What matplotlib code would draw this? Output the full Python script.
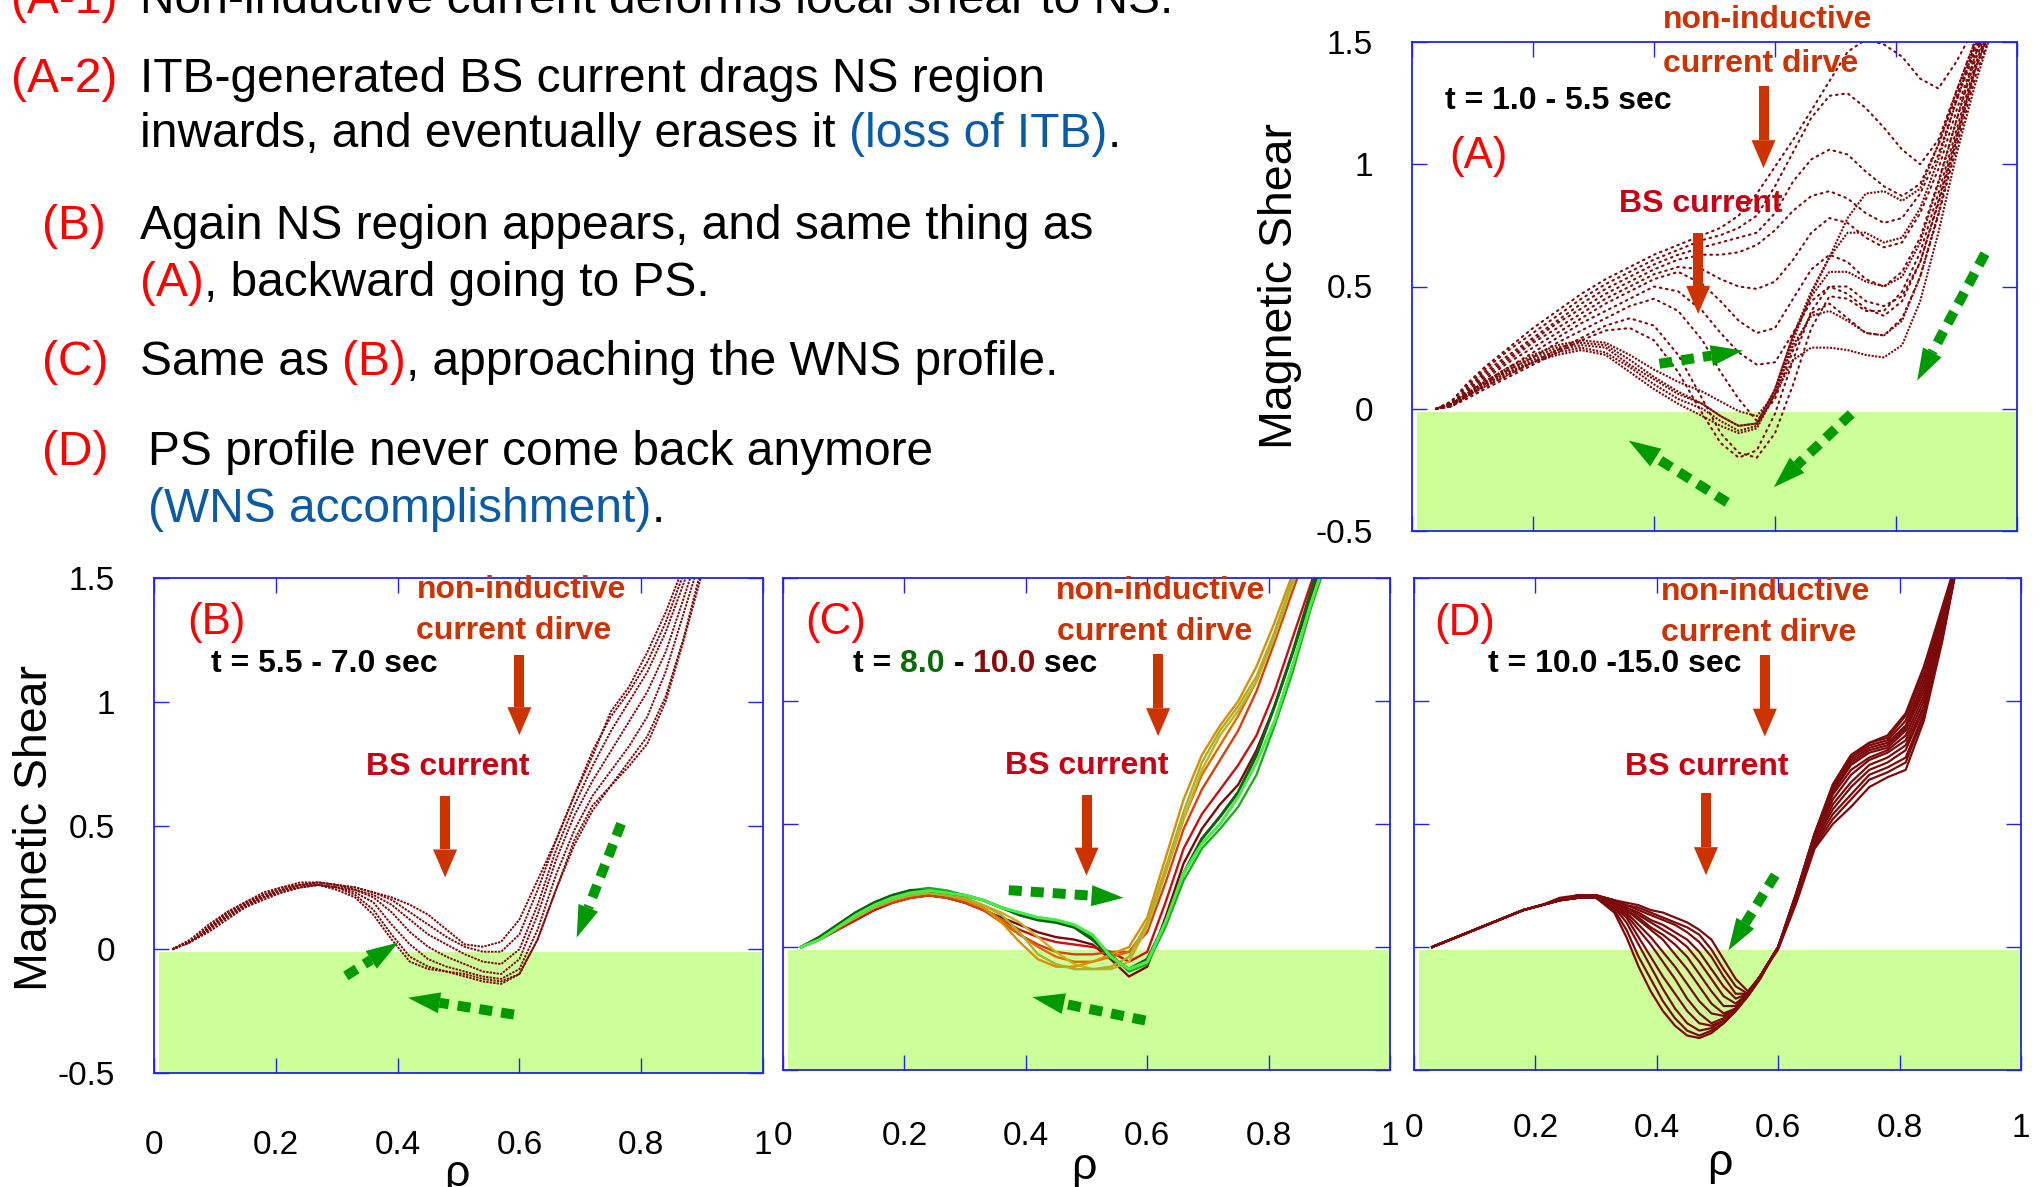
import numpy as np
import matplotlib
matplotlib.use("Agg")
import matplotlib.pyplot as plt
from matplotlib.patches import Polygon

# ---- magnetic shear profiles s(rho), one list per time slice ----
# (A) t = 1.0 - 5.5 s
rho_a = [0.04, 0.065, 0.09, 0.12, 0.16, 0.20, 0.24, 0.28, 0.32, 0.36, 0.40, 0.44, 0.48, 0.51,
         0.54, 0.57, 0.60, 0.63, 0.66, 0.69, 0.72, 0.75, 0.78, 0.81, 0.84, 0.87, 0.90, 0.93, 0.96]
shear_a_early = [
    [0.0, 0.03, 0.10, 0.17, 0.25, 0.33, 0.40, 0.47, 0.53, 0.58, 0.63, 0.67, 0.71, 0.74, 0.79, 0.88, 0.99, 1.10, 1.22, 1.34, 1.46, 1.51, 1.49, 1.44, 1.35, 1.31, 1.42, 1.56, 1.70],
    [0.0, 0.03, 0.09, 0.16, 0.24, 0.31, 0.38, 0.45, 0.51, 0.56, 0.61, 0.65, 0.69, 0.71, 0.74, 0.79, 0.91, 1.05, 1.19, 1.28, 1.29, 1.23, 1.15, 1.06, 1.00, 1.10, 1.30, 1.50, 1.66],
    [0.0, 0.02, 0.08, 0.15, 0.22, 0.29, 0.36, 0.43, 0.49, 0.54, 0.59, 0.63, 0.66, 0.68, 0.70, 0.72, 0.80, 0.93, 1.02, 1.06, 1.04, 0.97, 0.91, 0.87, 0.92, 1.08, 1.28, 1.48, 1.64],
    [0.0, 0.02, 0.07, 0.14, 0.21, 0.28, 0.35, 0.41, 0.47, 0.52, 0.57, 0.61, 0.63, 0.63, 0.64, 0.67, 0.73, 0.81, 0.87, 0.89, 0.86, 0.80, 0.76, 0.78, 0.88, 1.04, 1.26, 1.46, 1.63],
    [0.0, 0.02, 0.07, 0.13, 0.20, 0.27, 0.33, 0.39, 0.45, 0.50, 0.55, 0.58, 0.57, 0.53, 0.50, 0.49, 0.52, 0.61, 0.72, 0.78, 0.76, 0.70, 0.66, 0.68, 0.80, 0.98, 1.22, 1.44, 1.62],
    [0.0, 0.02, 0.06, 0.12, 0.19, 0.25, 0.31, 0.37, 0.43, 0.48, 0.53, 0.56, 0.51, 0.44, 0.36, 0.31, 0.33, 0.45, 0.57, 0.63, 0.60, 0.53, 0.50, 0.56, 0.70, 0.93, 1.18, 1.42, 1.60],
    [0.0, 0.02, 0.06, 0.11, 0.17, 0.23, 0.29, 0.35, 0.40, 0.45, 0.50, 0.48, 0.40, 0.31, 0.23, 0.18, 0.19, 0.31, 0.44, 0.50, 0.47, 0.41, 0.38, 0.44, 0.60, 0.85, 1.12, 1.38, 1.58],
    [0.0, 0.01, 0.05, 0.10, 0.16, 0.21, 0.27, 0.32, 0.37, 0.42, 0.45, 0.40, 0.28, 0.15, 0.04, -0.05, 0.04, 0.24, 0.39, 0.43, 0.37, 0.31, 0.30, 0.37, 0.54, 0.79, 1.07, 1.35, 1.56],
    [0.0, 0.01, 0.05, 0.09, 0.14, 0.19, 0.24, 0.29, 0.34, 0.37, 0.34, 0.22, 0.04, -0.10, -0.18, -0.20, -0.10, 0.10, 0.33, 0.46, 0.45, 0.40, 0.40, 0.48, 0.64, 0.88, 1.14, 1.40, 1.60],
    [0.0, 0.01, 0.04, 0.08, 0.13, 0.18, 0.23, 0.28, 0.32, 0.33, 0.28, 0.15, -0.02, -0.14, -0.20, -0.17, -0.02, 0.20, 0.40, 0.50, 0.50, 0.44, 0.42, 0.46, 0.60, 0.84, 1.10, 1.38, 1.58],
]
shear_a_late = [
    [0.0, 0.02, 0.06, 0.11, 0.17, 0.22, 0.26, 0.28, 0.27, 0.22, 0.16, 0.11, 0.07, 0.03, -0.01, -0.03, 0.06, 0.28, 0.47, 0.62, 0.78, 0.88, 0.89, 0.85, 0.90, 1.08, 1.30, 1.50, 1.66],
    [0.0, 0.02, 0.06, 0.11, 0.16, 0.21, 0.25, 0.27, 0.26, 0.20, 0.13, 0.07, 0.02, -0.03, -0.07, -0.06, 0.08, 0.30, 0.48, 0.62, 0.72, 0.72, 0.68, 0.70, 0.82, 1.02, 1.26, 1.48, 1.64],
    [0.0, 0.02, 0.05, 0.10, 0.15, 0.20, 0.24, 0.26, 0.25, 0.18, 0.12, 0.06, 0.02, -0.03, -0.07, -0.06, 0.08, 0.30, 0.46, 0.56, 0.56, 0.52, 0.50, 0.54, 0.68, 0.92, 1.18, 1.44, 1.62],
    [0.0, 0.02, 0.05, 0.10, 0.15, 0.19, 0.23, 0.25, 0.23, 0.17, 0.10, 0.04, 0.00, -0.05, -0.09, -0.07, 0.06, 0.26, 0.38, 0.40, 0.36, 0.31, 0.30, 0.36, 0.54, 0.80, 1.10, 1.38, 1.60],
    [0.0, 0.01, 0.05, 0.09, 0.14, 0.19, 0.22, 0.24, 0.22, 0.15, 0.08, 0.02, -0.03, -0.07, -0.10, -0.08, 0.06, 0.20, 0.25, 0.25, 0.24, 0.22, 0.21, 0.26, 0.44, 0.72, 1.04, 1.32, 1.56],
]

# (B) t = 5.5 - 7.0 s
rho_b = [0.03, 0.06, 0.09, 0.12, 0.15, 0.18, 0.21, 0.24, 0.27, 0.30, 0.33, 0.36, 0.39, 0.42, 0.45,
         0.48, 0.51, 0.54, 0.57, 0.60, 0.63, 0.66, 0.69, 0.72, 0.75, 0.78, 0.81, 0.84, 0.87, 0.90]
shear_b = [
    [0.0, 0.04, 0.10, 0.15, 0.19, 0.23, 0.25, 0.27, 0.27, 0.26, 0.25, 0.23, 0.21, 0.18, 0.14, 0.08, 0.02, 0.01, 0.03, 0.12, 0.28, 0.44, 0.62, 0.78, 0.96, 1.06, 1.20, 1.36, 1.55, 1.75],
    [0.0, 0.03, 0.09, 0.15, 0.19, 0.22, 0.25, 0.26, 0.27, 0.26, 0.25, 0.23, 0.20, 0.15, 0.10, 0.05, 0.01, -0.01, -0.01, 0.06, 0.24, 0.44, 0.62, 0.80, 0.94, 1.04, 1.16, 1.32, 1.52, 1.72],
    [0.0, 0.03, 0.09, 0.14, 0.18, 0.22, 0.24, 0.26, 0.27, 0.26, 0.24, 0.22, 0.18, 0.12, 0.06, 0.02, -0.02, -0.05, -0.06, 0.00, 0.18, 0.40, 0.58, 0.74, 0.88, 1.00, 1.12, 1.28, 1.48, 1.70],
    [0.0, 0.03, 0.08, 0.14, 0.18, 0.21, 0.24, 0.26, 0.26, 0.25, 0.24, 0.21, 0.15, 0.07, 0.01, -0.03, -0.06, -0.09, -0.10, -0.04, 0.14, 0.36, 0.54, 0.68, 0.80, 0.92, 1.04, 1.20, 1.42, 1.65],
    [0.0, 0.03, 0.08, 0.13, 0.18, 0.21, 0.24, 0.25, 0.26, 0.25, 0.23, 0.19, 0.10, 0.02, -0.04, -0.07, -0.09, -0.11, -0.12, -0.08, 0.08, 0.30, 0.48, 0.62, 0.72, 0.82, 0.94, 1.12, 1.36, 1.60],
    [0.0, 0.03, 0.08, 0.13, 0.17, 0.21, 0.23, 0.25, 0.26, 0.25, 0.22, 0.16, 0.06, -0.03, -0.07, -0.09, -0.11, -0.13, -0.14, -0.10, 0.04, 0.24, 0.42, 0.56, 0.66, 0.76, 0.86, 1.02, 1.26, 1.55],
    [0.0, 0.03, 0.07, 0.12, 0.17, 0.20, 0.23, 0.25, 0.26, 0.24, 0.21, 0.14, 0.04, -0.05, -0.08, -0.09, -0.10, -0.12, -0.13, -0.10, 0.04, 0.24, 0.44, 0.58, 0.66, 0.74, 0.83, 1.00, 1.25, 1.52],
]

# (C) t = 8.0 - 10.0 s
rho_c = [0.03, 0.06, 0.09, 0.12, 0.15, 0.18, 0.21, 0.24, 0.27, 0.30, 0.33, 0.36, 0.39, 0.42, 0.45,
         0.48, 0.51, 0.54, 0.57, 0.60, 0.63, 0.66, 0.69, 0.72, 0.75, 0.78, 0.81, 0.84, 0.87, 0.90]
shear_c = [
    [0.0, 0.03, 0.07, 0.11, 0.15, 0.18, 0.20, 0.21, 0.20, 0.18, 0.15, 0.12, 0.09, 0.06, 0.04, 0.03, 0.01, -0.05, -0.12, -0.08, 0.12, 0.34, 0.48, 0.58, 0.66, 0.80, 0.98, 1.20, 1.42, 1.65],
    [0.0, 0.03, 0.07, 0.11, 0.15, 0.18, 0.20, 0.21, 0.20, 0.18, 0.15, 0.11, 0.07, 0.04, 0.02, 0.01, 0.00, -0.02, -0.06, -0.02, 0.18, 0.40, 0.54, 0.64, 0.74, 0.86, 1.04, 1.26, 1.48, 1.70],
    [0.0, 0.03, 0.07, 0.12, 0.16, 0.18, 0.20, 0.21, 0.20, 0.18, 0.15, 0.10, 0.05, 0.01, -0.02, -0.03, -0.03, -0.02, -0.02, 0.06, 0.26, 0.48, 0.64, 0.76, 0.88, 1.04, 1.24, 1.45, 1.65, 1.82],
    [0.0, 0.03, 0.08, 0.12, 0.16, 0.19, 0.21, 0.22, 0.21, 0.19, 0.16, 0.11, 0.05, 0.00, -0.04, -0.06, -0.06, -0.04, -0.02, 0.08, 0.30, 0.52, 0.70, 0.82, 0.94, 1.08, 1.28, 1.48, 1.68, 1.85],
    [0.0, 0.03, 0.08, 0.12, 0.16, 0.19, 0.21, 0.22, 0.21, 0.19, 0.16, 0.10, 0.02, -0.05, -0.08, -0.08, -0.06, -0.03, 0.00, 0.12, 0.36, 0.60, 0.78, 0.90, 1.00, 1.14, 1.32, 1.52, 1.72, 1.88],
    [0.0, 0.03, 0.08, 0.12, 0.16, 0.19, 0.21, 0.22, 0.21, 0.20, 0.17, 0.14, 0.10, 0.04, -0.02, -0.07, -0.09, -0.09, -0.06, 0.08, 0.30, 0.52, 0.72, 0.86, 0.96, 1.08, 1.26, 1.48, 1.68, 1.85],
    [0.0, 0.03, 0.08, 0.12, 0.16, 0.19, 0.21, 0.22, 0.21, 0.20, 0.17, 0.13, 0.06, -0.03, -0.07, -0.09, -0.09, -0.08, -0.04, 0.10, 0.32, 0.55, 0.75, 0.88, 0.98, 1.10, 1.28, 1.50, 1.70, 1.85],
    [0.0, 0.04, 0.09, 0.14, 0.18, 0.21, 0.23, 0.24, 0.23, 0.21, 0.19, 0.16, 0.14, 0.12, 0.11, 0.09, 0.04, -0.03, -0.10, -0.07, 0.08, 0.27, 0.40, 0.48, 0.57, 0.70, 0.90, 1.12, 1.38, 1.60],
    [0.0, 0.04, 0.09, 0.14, 0.18, 0.21, 0.23, 0.23, 0.22, 0.21, 0.19, 0.16, 0.13, 0.11, 0.10, 0.08, 0.03, -0.04, -0.09, -0.05, 0.10, 0.30, 0.44, 0.53, 0.63, 0.78, 0.98, 1.20, 1.45, 1.68],
    [0.0, 0.03, 0.08, 0.13, 0.17, 0.20, 0.22, 0.23, 0.22, 0.21, 0.19, 0.16, 0.14, 0.12, 0.11, 0.09, 0.05, -0.04, -0.09, -0.06, 0.10, 0.30, 0.42, 0.50, 0.61, 0.75, 0.92, 1.15, 1.40, 1.62],
]
colors_c = ["#7a0a0a", "#c81010", "#d84010", "#e06a00", "#d89000", "#c8b020",
            "#a8b030", "#22aa22", "#0f5f14", "#44ee44"]

# (D) t = 10.0 - 15.0 s
rho_d = [0.03, 0.06, 0.09, 0.12, 0.15, 0.18, 0.21, 0.24, 0.27, 0.30, 0.33, 0.35, 0.37, 0.39, 0.41, 0.43, 0.45,
         0.47, 0.49, 0.51, 0.53, 0.55, 0.57, 0.60, 0.63, 0.66, 0.69, 0.72, 0.75, 0.78, 0.81, 0.84, 0.87, 0.90]
shear_d = [
    [0.0, 0.03, 0.06, 0.09, 0.12, 0.15, 0.17, 0.19, 0.21, 0.21, 0.19, 0.18, 0.17, 0.15, 0.14, 0.12, 0.10, 0.07, 0.03, -0.05, -0.13, -0.18, -0.12, -0.01, 0.18, 0.40, 0.50, 0.57, 0.65, 0.69, 0.72, 0.92, 1.24, 1.62],
    [0.0, 0.03, 0.06, 0.09, 0.12, 0.15, 0.17, 0.19, 0.21, 0.21, 0.19, 0.17, 0.16, 0.14, 0.12, 0.10, 0.08, 0.05, -0.01, -0.09, -0.16, -0.19, -0.12, 0.00, 0.19, 0.41, 0.52, 0.60, 0.68, 0.71, 0.75, 0.94, 1.25, 1.62],
    [0.0, 0.03, 0.06, 0.09, 0.12, 0.15, 0.17, 0.20, 0.21, 0.21, 0.19, 0.17, 0.15, 0.13, 0.11, 0.09, 0.06, 0.02, -0.04, -0.12, -0.19, -0.19, -0.12, 0.00, 0.19, 0.42, 0.54, 0.62, 0.70, 0.73, 0.77, 0.95, 1.26, 1.62],
    [0.0, 0.03, 0.06, 0.09, 0.12, 0.15, 0.17, 0.19, 0.21, 0.21, 0.18, 0.16, 0.14, 0.11, 0.09, 0.06, 0.03, -0.02, -0.09, -0.16, -0.21, -0.19, -0.12, 0.00, 0.20, 0.43, 0.56, 0.65, 0.72, 0.75, 0.80, 0.97, 1.27, 1.62],
    [0.0, 0.03, 0.06, 0.09, 0.12, 0.15, 0.17, 0.19, 0.21, 0.21, 0.18, 0.16, 0.13, 0.10, 0.07, 0.04, 0.00, -0.06, -0.13, -0.20, -0.23, -0.19, -0.12, 0.00, 0.20, 0.43, 0.58, 0.67, 0.74, 0.77, 0.82, 0.98, 1.28, 1.62],
    [0.0, 0.03, 0.06, 0.09, 0.12, 0.15, 0.17, 0.19, 0.20, 0.21, 0.18, 0.15, 0.12, 0.08, 0.05, 0.01, -0.04, -0.11, -0.18, -0.24, -0.24, -0.19, -0.12, 0.00, 0.21, 0.44, 0.60, 0.70, 0.76, 0.79, 0.84, 1.00, 1.29, 1.62],
    [0.0, 0.03, 0.06, 0.09, 0.12, 0.15, 0.17, 0.19, 0.20, 0.21, 0.18, 0.15, 0.11, 0.07, 0.03, -0.03, -0.09, -0.16, -0.23, -0.27, -0.25, -0.19, -0.12, 0.00, 0.21, 0.44, 0.62, 0.72, 0.77, 0.80, 0.86, 1.02, 1.30, 1.62],
    [0.0, 0.03, 0.06, 0.09, 0.12, 0.15, 0.17, 0.19, 0.20, 0.21, 0.17, 0.14, 0.09, 0.04, -0.02, -0.08, -0.15, -0.22, -0.27, -0.28, -0.25, -0.19, -0.12, 0.00, 0.21, 0.45, 0.63, 0.74, 0.79, 0.81, 0.88, 1.04, 1.31, 1.62],
    [0.0, 0.03, 0.06, 0.09, 0.12, 0.15, 0.17, 0.19, 0.20, 0.21, 0.17, 0.13, 0.07, 0.01, -0.06, -0.13, -0.21, -0.27, -0.31, -0.29, -0.25, -0.19, -0.12, 0.00, 0.21, 0.45, 0.64, 0.75, 0.80, 0.82, 0.89, 1.06, 1.32, 1.62],
    [0.0, 0.03, 0.06, 0.09, 0.12, 0.15, 0.17, 0.19, 0.20, 0.20, 0.16, 0.12, 0.04, -0.04, -0.12, -0.19, -0.26, -0.31, -0.32, -0.30, -0.25, -0.19, -0.12, 0.00, 0.22, 0.46, 0.65, 0.76, 0.81, 0.83, 0.90, 1.08, 1.34, 1.62],
    [0.0, 0.03, 0.06, 0.09, 0.12, 0.15, 0.17, 0.19, 0.20, 0.20, 0.16, 0.10, 0.01, -0.08, -0.17, -0.25, -0.31, -0.34, -0.33, -0.30, -0.25, -0.19, -0.12, 0.00, 0.22, 0.46, 0.65, 0.77, 0.82, 0.84, 0.92, 1.10, 1.35, 1.62],
    [0.0, 0.03, 0.06, 0.09, 0.12, 0.15, 0.17, 0.19, 0.20, 0.20, 0.15, 0.07, -0.04, -0.13, -0.22, -0.29, -0.34, -0.36, -0.34, -0.31, -0.26, -0.20, -0.13, 0.00, 0.22, 0.46, 0.66, 0.78, 0.83, 0.85, 0.94, 1.12, 1.37, 1.62],
    [0.0, 0.03, 0.06, 0.09, 0.12, 0.15, 0.17, 0.19, 0.20, 0.20, 0.14, 0.04, -0.08, -0.18, -0.26, -0.32, -0.36, -0.37, -0.35, -0.31, -0.26, -0.20, -0.13, 0.00, 0.22, 0.46, 0.66, 0.78, 0.83, 0.86, 0.95, 1.14, 1.38, 1.62],
]

x_ticks = [0, 0.2, 0.4, 0.6, 0.8, 1]
x_ticklabels = ["0", "0.2", "0.4", "0.6", "0.8", "1"]
y_ticks = [-0.5, 0, 0.5, 1, 1.5]
y_ticklabels = ["-0.5", "0", "0.5", "1", "1.5"]

# colours
CURVE = "#7d0a0a"
AXIS_BLUE = "#2222ee"
NS_FILL = "#ccff99"
RED = "#ff0000"
NOTE_BLUE = "#0a5aa6"
DRIVE = "#cc3300"
BS = "#c80014"
GREEN = "#009900"

plt.rcParams["font.family"] = ["Liberation Sans", "DejaVu Sans"]

W, H = 2044, 1187
fig = plt.figure(figsize=(W / 100, H / 100), dpi=100)
renderer = fig.canvas.get_renderer()


def text_width(s, **kw):
    # width of s in pixels, keeping leading/trailing blanks
    t = fig.text(0, 0, "|" + s + "|", **kw)
    w = t.get_window_extent(renderer).width
    t.set_text("||")
    w -= t.get_window_extent(renderer).width
    t.remove()
    return w


def run(x, y, parts, va="baseline", **kw):
    # x, y in display pixels (origin bottom-left); parts = [(text, colour), ...]
    for s, color in parts:
        fig.text(x / W, y / H, s, color=color, va=va, **kw)
        x += text_width(s, **kw)


def box(left, top, right, bottom):
    return [left / W, 1 - bottom / H, (right - left) / W, (bottom - top) / H]


def setup(ax, ylab, xlab, xpad):
    ax.set_xlim(0, 1)
    ax.set_ylim(-0.5, 1.5)
    ax.set_xticks(x_ticks)
    ax.set_yticks(y_ticks)
    ax.set_xticklabels(x_ticklabels if xlab else [])
    ax.set_yticklabels(y_ticklabels if ylab else [])
    ax.tick_params(direction="in", length=11, width=1.0, color=AXIS_BLUE,
                   top=True, right=True, labelsize=24)
    ax.tick_params(axis="x", pad=xpad)
    ax.tick_params(axis="y", pad=28)
    for sp in ax.spines.values():
        sp.set_color(AXIS_BLUE)
        sp.set_linewidth(1.3)
    ax.axhspan(-0.5, -0.012, xmin=0.008, xmax=1.0, color=NS_FILL, lw=0, zorder=0)


def arrow(ax, start, tip, color, shaft, head_w, head_len, dashes=None):
    # block arrow, sizes in pixels
    to_px = ax.transData.transform
    to_data = ax.transData.inverted().transform
    p0, p1 = to_px(start), to_px(tip)
    u = (p1 - p0) / np.hypot(*(p1 - p0))
    n = np.array([-u[1], u[0]])
    base = p1 - u * head_len
    b = to_data(base)
    line, = ax.plot([start[0], b[0]], [start[1], b[1]], color=color, lw=shaft * 0.72,
                    solid_capstyle="butt", clip_on=False, zorder=5)
    if dashes:
        line.set_dashes(dashes)
        line.set_dash_capstyle("butt")
    head = to_data(np.array([p1, base + n * head_w / 2, base - n * head_w / 2]))
    ax.add_patch(Polygon(head, closed=True, color=color, lw=0, clip_on=False, zorder=5))


def notes(ax, ni_xy, cd_xy, ni_arrow, bs_xy, bs_arrow, greens):
    ax.text(*ni_xy, "non-inductive", ha="center", va="center", fontsize=23,
            fontweight="bold", color=DRIVE, zorder=6)
    ax.text(*cd_xy, "current dirve", ha="center", va="center", fontsize=23,
            fontweight="bold", color=DRIVE, zorder=6)
    arrow(ax, ni_arrow[0], ni_arrow[1], DRIVE, 10, 24, 28)
    ax.text(*bs_xy, "BS current", ha="center", va="center", fontsize=23,
            fontweight="bold", color=BS, zorder=6)
    arrow(ax, bs_arrow[0], bs_arrow[1], DRIVE, 10, 24, 28)
    for g0, g1 in greens:
        arrow(ax, g0, g1, GREEN, 10, 21, 32, dashes=(1.3, 0.9))


def t_label(ax, x_frac, y_data, parts):
    x, _ = ax.transAxes.transform((x_frac, 0))
    _, y = ax.transData.transform((0, y_data))
    run(x, y, parts, va="center", fontsize=23, fontweight="bold")


ax_a = fig.add_axes(box(1412, 42, 2017, 531))
ax_b = fig.add_axes(box(154, 578, 763, 1073))
ax_c = fig.add_axes(box(783, 578, 1390, 1070))
ax_d = fig.add_axes(box(1414, 578, 2021, 1070))

setup(ax_a, True, False, 10)
setup(ax_b, True, True, 41)
setup(ax_c, False, True, 37)
setup(ax_d, False, True, 31)

# profiles
for s in shear_a_early:
    ax_a.plot(rho_a, s, color=CURVE, lw=1.5, dashes=(0.8, 2.2), dash_capstyle="round")
for s in shear_a_late:
    ax_a.plot(rho_a, s, color=CURVE, lw=1.5, dashes=(1.0, 0.7))
for s in shear_b:
    ax_b.plot(rho_b, s, color=CURVE, lw=1.4, dashes=(1.2, 0.6))
for s, c in zip(shear_c, colors_c):
    ax_c.plot(rho_c, s, color=c, lw=2.2 if c in ("#0f5f14", "#44ee44") else 1.7)
for s in shear_d:
    ax_d.plot(rho_d, s, color=CURVE, lw=1.6)

# panel letters and time windows
for ax, xy, lab in [(ax_a, (0.109, 1.03), "(A)"), (ax_b, (0.103, 1.32), "(B)"),
                    (ax_c, (0.087, 1.32), "(C)"), (ax_d, (0.083, 1.316), "(D)")]:
    ax.text(xy[0], xy[1], lab, transform=ax.transData, ha="center", va="center",
            fontsize=31.5, color=RED)

t_label(ax_a, 0.054, 1.26, [("t = 1.0 - 5.5 sec", "black")])
t_label(ax_b, 0.093, 1.151, [("t = 5.5 - 7.0 sec", "black")])
t_label(ax_c, 0.115, 1.152, [("t = ", "black"), ("8.0", "#0a6a0a"), (" - ", "black"),
                             ("10.0", "#8a0a0a"), (" sec", "black")])
t_label(ax_d, 0.122, 1.149, [("t = 10.0 -15.0 sec", "black")])

notes(ax_a, (0.587, 1.59), (0.576, 1.408), [(0.581, 1.32), (0.581, 0.984)],
      (0.477, 0.838), [(0.473, 0.72), (0.473, 0.388)],
      [((0.409, 0.184), (0.547, 0.238)), ((0.947, 0.634), (0.835, 0.115)),
       ((0.726, -0.021), (0.598, -0.321)), ((0.521, -0.383), (0.358, -0.130))])
notes(ax_b, (0.604, 1.453), (0.59, 1.284), [(0.60, 1.19), (0.60, 0.865)],
      (0.482, 0.736), [(0.478, 0.62), (0.478, 0.29)],
      [((0.767, 0.507), (0.694, 0.047)), ((0.315, -0.108), (0.401, 0.027)),
       ((0.591, -0.264), (0.417, -0.196))])
notes(ax_c, (0.622, 1.449), (0.613, 1.279), [(0.618, 1.19), (0.618, 0.857)],
      (0.5, 0.735), [(0.5, 0.619), (0.5, 0.29)],
      [((0.372, 0.231), (0.561, 0.2)), ((0.597, -0.299), (0.411, -0.204))])
notes(ax_d, (0.579, 1.445), (0.568, 1.275), [(0.578, 1.187), (0.578, 0.855)],
      (0.483, 0.733), [(0.481, 0.624), (0.481, 0.292)],
      [((0.595, 0.292), (0.518, -0.014))])

# axis titles
fig.text(1280 / W, 1 - 286 / H, "Magnetic Shear", rotation=90, ha="center", va="center",
         fontsize=33.5)
fig.text(35 / W, 1 - 828 / H, "Magnetic Shear", rotation=90, ha="center", va="center",
         fontsize=33.5)
for x, y in [(457, 1186), (1084, 1179), (1720, 1175)]:
    fig.text(x / W, 1 - y / H, "ρ", ha="center", va="baseline", fontsize=32)

# explanatory text
BODY = dict(fontsize=34.5)
run(11, H - 13, [("(A-1)", RED)], **BODY)
run(140, H - 13, [("Non-inductive current deforms local shear to NS.", "black")], **BODY)
run(11, H - 92, [("(A-2)", RED)], **BODY)
run(140, H - 92, [("ITB-generated BS current drags NS region", "black")], **BODY)
run(140, H - 147, [("inwards, and eventually erases it ", "black"),
                   ("(loss of ITB)", NOTE_BLUE), (".", "black")], **BODY)
run(42, H - 239, [("(B)", RED)], **BODY)
run(140, H - 239, [("Again NS region appears, and same thing as", "black")], **BODY)
run(140, H - 296, [("(A)", RED), (", backward going to PS.", "black")], **BODY)
run(42, H - 375, [("(C)", RED)], **BODY)
run(140, H - 375, [("Same as ", "black"), ("(B)", RED),
                   (", approaching the WNS profile.", "black")], **BODY)
run(42, H - 465, [("(D)", RED)], **BODY)
run(148, H - 465, [("PS profile never come back anymore", "black")], **BODY)
run(148, H - 522, [("(WNS accomplishment)", NOTE_BLUE), (".", "black")], **BODY)

fig.savefig("out.png", dpi=100)
